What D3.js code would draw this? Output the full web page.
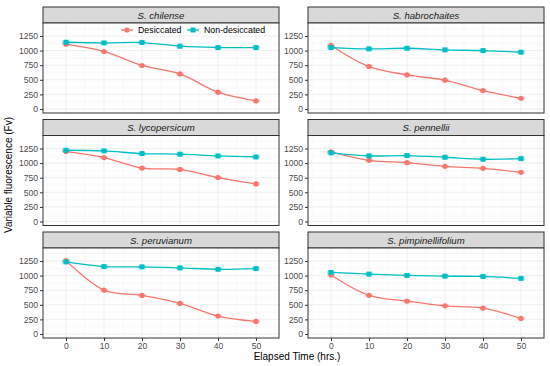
<!DOCTYPE html>
<html>
<head>
<meta charset="utf-8">
<script src="https://cdn.jsdelivr.net/npm/d3@7"></script>
<style>
  body { margin: 0; background: #fff; }
  text { font-family: "Liberation Sans", Arial, sans-serif; }
</style>
</head>
<body>
<div id="chart"></div>
<script>
// elapsed time points (hrs.)
const hours = [0, 10, 20, 30, 40, 50];
const species = ["S. chilense", "S. habrochaites", "S. lycopersicum",
                 "S. pennellii", "S. peruvianum", "S. pimpinellifolium"];
const desiccated = [
    [1110, 985, 745, 600, 288, 138],
    [1088, 727, 584, 493, 315, 184],
    [1200, 1094, 914, 891, 752, 643],
    [1193, 1048, 1008, 945, 910, 842],
    [1256, 750, 660, 523, 308, 216],
    [1010, 662, 562, 482, 442, 266]
];
const nonDesiccated = [
    [1143, 1132, 1138, 1075, 1052, 1052],
    [1052, 1030, 1040, 1012, 1000, 972],
    [1220, 1208, 1163, 1152, 1123, 1105],
    [1176, 1123, 1129, 1100, 1066, 1077],
    [1234, 1154, 1150, 1132, 1108, 1120],
    [1054, 1026, 1003, 990, 986, 952]
];
const yTicks = [0, 250, 500, 750, 1000, 1250];
const xTicks = [0, 10, 20, 30, 40, 50];
const seriesNames = ["Desiccated", "Non-desiccated"];
const colors = ["#F8766D", "#00BFC4"];

const W = 550, H = 366;
const colX = [43, 308];
const rowY = [7, 119.5, 232];
const panelW = 236, stripH = 16, panelH = 90;

const x = d3.scaleLinear().domain([-6.05, 56.05]).range([0, panelW]);
const y = d3.scaleLinear().domain([-68.5, 1472.6]).range([panelH, 0]);

const svg = d3.select("#chart").append("svg")
    .attr("width", W).attr("height", H);

const line = d3.line()
    .x(d => x(d[0]))
    .y(d => y(d[1]))
    .curve(d3.curveCatmullRom.alpha(0.5));

species.forEach((name, i) => {
    const col = i % 2, row = Math.floor(i / 2);
    const g = svg.append("g")
        .attr("transform", `translate(${colX[col]},${rowY[row]})`);

    // strip
    g.append("rect")
        .attr("width", panelW).attr("height", stripH)
        .attr("fill", "#D9D9D9").attr("stroke", "#333").attr("stroke-width", 1);
    g.append("text")
        .attr("x", panelW / 2).attr("y", stripH / 2 + 3.5)
        .attr("text-anchor", "middle")
        .attr("font-size", 9.6).attr("font-style", "italic")
        .attr("fill", "#1A1A1A")
        .text(name);

    const p = g.append("g").attr("transform", `translate(0,${stripH})`);
    p.append("rect").attr("width", panelW).attr("height", panelH).attr("fill", "#fff");

    // grid
    p.append("g").selectAll("line.gy").data(yTicks).join("line")
        .attr("x1", 0).attr("x2", panelW)
        .attr("y1", d => y(d)).attr("y2", d => y(d))
        .attr("stroke", "#EBEBEB").attr("stroke-width", 0.8);
    p.append("g").selectAll("line.gy2").data(d3.range(125, 1500, 250)).join("line")
        .attr("x1", 0).attr("x2", panelW)
        .attr("y1", d => y(d)).attr("y2", d => y(d))
        .attr("stroke", "#F3F3F3").attr("stroke-width", 0.5);
    p.append("g").selectAll("line.gx").data(xTicks).join("line")
        .attr("y1", 0).attr("y2", panelH)
        .attr("x1", d => x(d)).attr("x2", d => x(d))
        .attr("stroke", "#EBEBEB").attr("stroke-width", 0.8);
    p.append("g").selectAll("line.gx2").data([-5, 5, 15, 25, 35, 45, 55]).join("line")
        .attr("y1", 0).attr("y2", panelH)
        .attr("x1", d => x(d)).attr("x2", d => x(d))
        .attr("stroke", "#F3F3F3").attr("stroke-width", 0.5);

    // series
    [desiccated[i], nonDesiccated[i]].forEach((vals, s) => {
        const pts = hours.map((h, k) => [h, vals[k]]);
        p.append("g").selectAll("line.eb").data(pts).join("line")
            .attr("x1", d => x(d[0]) - 4).attr("x2", d => x(d[0]) + 4)
            .attr("y1", d => y(d[1])).attr("y2", d => y(d[1]))
            .attr("stroke", colors[s]).attr("stroke-width", 3).attr("opacity", 0.3);
        p.append("path").datum(pts)
            .attr("d", line).attr("fill", "none")
            .attr("stroke", colors[s]).attr("stroke-width", 1.3);
        if (s === 0) {
            p.append("g").selectAll("circle").data(pts).join("circle")
                .attr("cx", d => x(d[0])).attr("cy", d => y(d[1])).attr("r", 2.6)
                .attr("fill", colors[s]);
        } else {
            p.append("g").selectAll("rect.pt").data(pts).join("rect")
                .attr("x", d => x(d[0]) - 2.5).attr("y", d => y(d[1]) - 2.5)
                .attr("width", 5).attr("height", 5)
                .attr("fill", colors[s]);
        }
    });

    p.append("rect").attr("width", panelW).attr("height", panelH)
        .attr("fill", "none").attr("stroke", "#333").attr("stroke-width", 1);

    // y axis
    const ya = p.append("g").call(d3.axisLeft(y).tickValues(yTicks).tickFormat(d3.format("d"))
        .tickSize(3).tickPadding(2));
    ya.select(".domain").remove();
    ya.selectAll(".tick line").attr("stroke", "#333");
    ya.selectAll(".tick text").attr("fill", "#4D4D4D").attr("font-size", 8.6)
        .attr("font-family", "Liberation Sans, Arial, sans-serif");

    // x axis only on bottom row
    if (row === 2) {
        const xa = p.append("g").attr("transform", `translate(0,${panelH})`)
            .call(d3.axisBottom(x).tickValues(xTicks).tickSize(3).tickPadding(2));
        xa.select(".domain").remove();
        xa.selectAll(".tick line").attr("stroke", "#333");
        xa.selectAll(".tick text").attr("fill", "#4D4D4D").attr("font-size", 8.6)
            .attr("font-family", "Liberation Sans, Arial, sans-serif");
    }

    // legend in first panel
    if (i === 0) {
        const lg = p.append("g").attr("transform", "translate(0,7)");
        const items = [{ x: 84, tx: 95 }, { x: 150, tx: 161 }];
        seriesNames.forEach((nm, s) => {
            lg.append("line")
                .attr("x1", items[s].x - 6).attr("x2", items[s].x + 6)
                .attr("stroke", colors[s]).attr("stroke-width", 1.3);
            if (s === 0) {
                lg.append("circle").attr("cx", items[s].x).attr("r", 2.6).attr("fill", colors[s]);
            } else {
                lg.append("rect").attr("x", items[s].x - 2.5).attr("y", -2.5)
                    .attr("width", 5).attr("height", 5).attr("fill", colors[s]);
            }
            lg.append("text").attr("x", items[s].tx).attr("y", 3.2)
                .attr("font-size", 8.8).attr("fill", "#000").text(nm);
        });
    }
});

// axis titles
svg.append("text")
    .attr("x", 297).attr("y", 360)
    .attr("text-anchor", "middle").attr("font-size", 10)
    .text("Elapsed Time (hrs.)");
svg.append("text")
    .attr("transform", "translate(12,175) rotate(-90)")
    .attr("text-anchor", "middle").attr("font-size", 10)
    .text("Variable fluorescence (Fv)");
</script>
</body>
</html>
